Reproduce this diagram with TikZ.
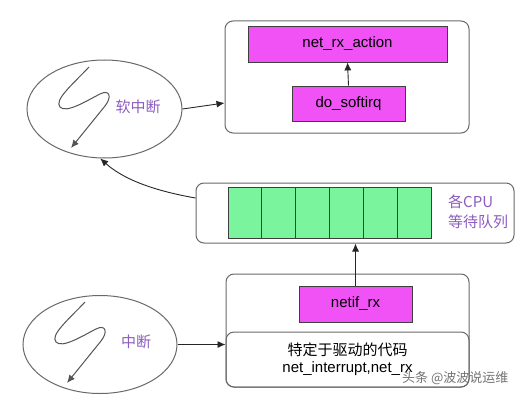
\documentclass[tikz,border=0pt]{standalone}
\usepackage{fontspec}
\setmainfont{Liberation Sans}
\newfontfamily\cjk{Noto Sans CJK SC}
\usetikzlibrary{shapes.geometric,arrows.meta,calc}
\definecolor{mag}{RGB}{240,82,245}
\definecolor{grn}{RGB}{122,245,158}
\definecolor{purp}{RGB}{140,92,192}
\definecolor{edgec}{RGB}{105,105,105}
\begin{document}
\begin{tikzpicture}[x=1pt,y=-1pt,
  outerbox/.style={draw=edgec, line width=1pt, rounded corners=8pt, inner sep=0pt},
  func/.style={draw=edgec!60!black, fill=mag, line width=0.8pt, inner sep=0pt, font=\fontsize{15}{18}\selectfont},
  cell/.style={draw=edgec!60!black, fill=grn, line width=0.8pt, inner sep=0pt, minimum width=33.83pt, minimum height=51pt},
  oval/.style={ellipse, draw=edgec, line width=1pt, inner sep=0pt},
  lbl/.style={text=purp, font=\cjk\fontsize{15}{18}\selectfont, inner sep=0pt},
  arr/.style={-{Latex[length=8pt,width=7pt]}, line width=0.9pt, draw=black!85},
  squig/.style={-{Latex[length=8pt,width=7pt]}, line width=1pt, draw=edgec!80!black}
]
\useasboundingbox (0,0) rectangle (521,401);
\fill[white] (0,0) rectangle (521,401);

% top box
\node[outerbox, minimum width=244pt, minimum height=112pt] (topbox) at (347,77) {};
\node[func, minimum width=199pt, minimum height=36pt] (rxact) at (347.5,44) {net\_rx\_action};
\node[func, minimum width=113pt, minimum height=35pt] (softirq) at (348.5,103.5) {do\_softirq};
\draw[arr] (softirq.north) -- (rxact.south);

% top ellipse
\node[oval, minimum width=155pt, minimum height=98pt] (soft) at (104.5,109) {};
\node[lbl] (softlbl) at (138,107) {软中断};
\draw[squig] (89,67) .. controls (72,85) and (54,100) .. (60,107)
  .. controls (66,114) and (88,100) .. (100,94)
  .. controls (110,89) and (112,97) .. (105,106) -- (71,148);
\draw[arr] (soft.east) -- (topbox.west |- 0,103);

% middle box
\node[outerbox, minimum width=318pt, minimum height=60pt] (queue) at (355,213) {};
\foreach \i in {0,...,5}{
  \node[cell] (c\i) at ({228+16.915+33.83*\i},212.5) {};
}
\node[lbl, align=left, anchor=west, font=\cjk\fontsize{15}{20}\selectfont] (qlbl) at (448,212) {各CPU\\等待队列};
\draw[arr] (queue.west |- 0,198) .. controls (150,190) and (122,178) .. (soft.265);

% bottom box
\node[outerbox, minimum width=243pt, minimum height=113pt] (drvbox) at (347.5,330.5) {};
\node[outerbox, minimum width=243pt, minimum height=55pt, align=center, font=\fontsize{15}{17}\selectfont] (drv) at (347.5,359.5) {{\cjk 特定于驱动的代码}\\net\_interrupt,net\_rx};
\node[func, minimum width=113pt, minimum height=36pt] (netif) at (355.5,304) {netif\_rx};
\draw[arr] (netif.north) -- (netif.north |- queue.south);

% bottom ellipse
\node[oval, minimum width=154pt, minimum height=98pt] (hard) at (100,344.5) {};
\node[lbl] (hardlbl) at (136,342) {中断};
\begin{scope}[shift={(-4,235)}]
\draw[squig] (89,67) .. controls (72,85) and (54,100) .. (60,107)
  .. controls (66,114) and (88,100) .. (100,94)
  .. controls (110,89) and (112,97) .. (105,106) -- (71,148);
\end{scope}
\draw[arr] (hard.east) -- (drv.west |- hard.east);

% watermark
\node[text=black!55, font=\cjk\fontsize{13}{15}\selectfont, inner sep=0pt, anchor=west] (wm) at (402,378) {头条 @波波说运维};
\end{tikzpicture}
\end{document}
